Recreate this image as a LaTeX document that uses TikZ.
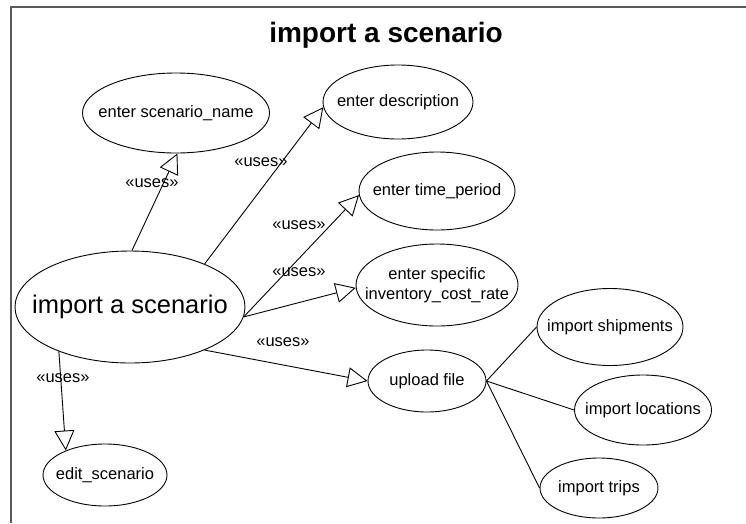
\documentclass[tikz,border=0pt]{standalone}
\usepackage{fontspec}
\setmainfont{Liberation Sans}
\usetikzlibrary{shapes.geometric,arrows.meta}
\tikzset{
  uc/.style={draw, ellipse, inner sep=0pt, line width=0.9pt},
  uctext/.style={font=\fontsize{16.5}{20}\selectfont, align=center, inner sep=0pt},
  uses/.style={draw, line width=0.9pt, -{Triangle[open, length=20pt, width=20pt, line width=0.9pt]}},
  plain/.style={draw, line width=0.9pt},
  lbl/.style={inner sep=0pt, font=\fontsize{16.5}{20}\selectfont},
}
\begin{document}
\begin{tikzpicture}[x=1pt, y=-1pt]
\useasboundingbox (0,0) rectangle (746,523);
\fill[white] (0,0) rectangle (746,523);
\draw[line width=1.6pt, color=black!65] (11,523) -- (11,7) -- (746,7);
\node[font=\bfseries\fontsize{28}{32}\selectfont, anchor=base] (title) at (386,42) {import a scenario};

\node[uc, minimum width=230pt, minimum height=112pt, label={[uctext, font=\fontsize{25.5}{30}\selectfont]center:import a scenario}] (imp) at (130,307) {};
\node[uc, minimum width=187pt, minimum height=80pt, label={[uctext]center:enter scenario\_name}] (sn) at (176,113) {};
\node[uc, minimum width=150pt, minimum height=74pt, label={[uctext]center:enter description}] (desc) at (398,102) {};
\node[uc, minimum width=156pt, minimum height=78pt, label={[uctext]center:enter time\_period}] (time) at (437,191) {};
\node[uc, minimum width=162pt, minimum height=82pt, label={[uctext]center:enter specific\\inventory\_cost\_rate}] (inv) at (437,285) {};
\node[uc, minimum width=118pt, minimum height=62pt, label={[uctext]center:upload file}] (up) at (427,381) {};
\node[uc, minimum width=146pt, minimum height=77pt, label={[uctext]center:import shipments}] (ship) at (610,327) {};
\node[uc, minimum width=137pt, minimum height=70pt, label={[uctext]center:import locations}] (loc) at (643,410) {};
\node[uc, minimum width=118pt, minimum height=60pt, label={[uctext]center:import trips}] (trips) at (599,488) {};
\node[uc, minimum width=124pt, minimum height=62pt, label={[uctext]center:edit\_scenario}] (edit) at (105,475) {};

\path[uses] (imp.88) -- (sn.272);
\path[uses] (imp.30) -- (desc.184);
\path[uses] (imp.-5) -- (time.183);
\path[uses] (imp.-5) -- (inv.182);
\path[uses] (imp.330) -- (up.west);
\path[uses] (imp.212) -- (edit.148);
\path[plain] (up.east) -- (ship.west);
\path[plain] (up.east) -- (loc.west);
\path[plain] (up.east) -- (trips.west);

\node[lbl] (l1) at (152,183) {«uses»};
\node[lbl] (l2) at (261,162) {«uses»};
\node[lbl] (l3) at (299,225) {«uses»};
\node[lbl] (l4) at (299,272) {«uses»};
\node[lbl] (l5) at (283,342) {«uses»};
\node[lbl] (l6) at (63,378) {«uses»};
\end{tikzpicture}
\end{document}
